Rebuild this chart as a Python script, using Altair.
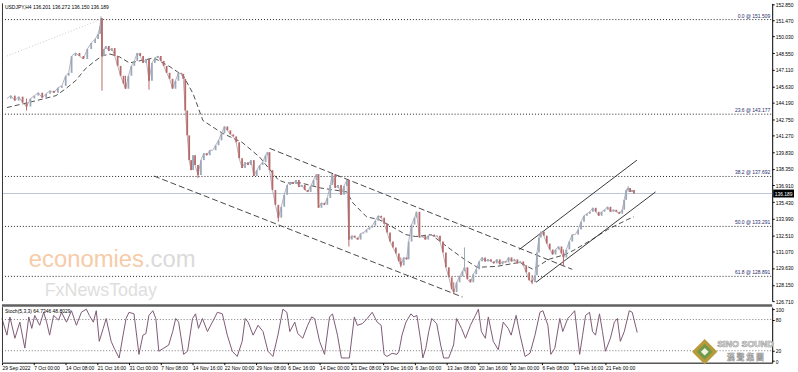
import altair as alt
import pandas as pd

FONT = "Liberation Sans"
W = 776
PH = 300
SH = 56
UP = "#9aa9ba"
DOWN = "#b86a6a"

# ---------------- price data (bar index, close) ----------------
bar_x = [0, 4, 8, 12, 16, 20, 24, 28, 32, 36,
         40, 44, 48, 52, 56, 60, 63, 66, 70, 74,
         78, 82, 86, 90, 93, 95, 96, 97, 99, 101,
         104, 107, 110, 113, 116, 119, 121, 124, 127, 130,
         133, 136, 139, 142, 145, 148, 151, 154, 157, 160,
         163, 166, 169, 172, 175, 178, 180, 182, 184, 186,
         188, 190, 192, 195, 198, 201, 204, 207, 210, 213,
         216, 219, 222, 225, 228, 231, 234, 237, 240, 243,
         246, 249, 252, 255, 258, 261, 264, 266, 268, 271,
         274, 277, 280, 283, 286, 289, 292, 295, 298, 301,
         304, 307, 310, 313, 316, 318, 321, 324, 327, 330,
         332, 335, 338, 341, 344, 347, 349, 352, 355, 358,
         361, 364, 367, 370, 373, 376, 379, 382, 385, 388,
         391, 394, 397, 400, 402, 405, 408, 410, 413, 416,
         418, 421, 424, 427, 430, 433, 436, 439, 442, 445,
         448, 451, 454, 456, 459, 462, 465, 467, 470, 473,
         476, 479, 482, 485, 488, 491, 494, 497, 500, 503,
         506, 509, 512, 515, 518, 521, 524, 527, 530, 533,
         536, 539, 541, 543, 545, 548, 551, 554, 557, 560,
         563, 566, 568, 571, 574, 577, 580, 583, 586, 589,
         592, 595, 598, 601, 604, 607, 610, 613, 616, 619,
         622, 625, 628, 630, 632, 634, 636, 638, 640]
close = [144.55, 144.81, 144.37, 144.72, 144.19, 143.85, 144.55, 144.81, 145.07, 144.63,
         144.98, 145.24, 145.07, 145.50, 145.68, 146.56, 146.82, 148.30, 148.57, 148.30,
         148.04, 148.91, 149.44, 149.79, 150.23, 150.93, 151.62, 148.30, 148.91, 149.18,
         148.74, 149.00, 148.30, 147.43, 146.56, 145.86, 145.42, 146.56, 147.43, 147.87,
         148.57, 148.30, 147.69, 148.04, 146.12, 147.69, 148.13, 148.30, 147.87, 147.43,
         146.82, 146.29, 145.42, 146.12, 146.82, 146.73, 146.29, 143.50, 141.31, 139.13,
         138.25, 139.56, 138.69, 137.81, 139.13, 139.74, 139.56, 140.00, 140.00, 140.44,
         140.87, 141.49, 142.10, 141.75, 141.40, 141.22, 140.70, 139.30, 138.43, 138.95,
         138.69, 139.13, 137.73, 138.25, 138.69, 138.95, 139.56, 139.83, 138.25, 136.50,
         135.19, 134.06, 135.02, 136.07, 136.94, 137.20, 137.03, 137.38, 136.77, 136.94,
         136.50, 136.33, 136.85, 137.38, 137.90, 134.93, 135.37, 135.19, 135.80, 136.94,
         137.90, 136.68, 136.94, 136.07, 136.85, 137.38, 132.13, 132.48, 132.31, 132.13,
         132.66, 132.75, 133.01, 133.18, 133.36, 133.80, 134.23, 134.06, 133.53, 132.75,
         131.96, 131.44, 130.91, 130.21, 129.86, 130.56, 130.39, 131.96, 133.45, 134.06,
         134.58, 132.31, 132.48, 132.13, 132.48, 132.57, 132.40, 132.48, 131.96, 130.99,
         129.69, 128.81, 127.76, 127.50, 128.37, 128.90, 129.34, 129.69, 128.64, 128.37,
         129.08, 129.51, 130.21, 130.56, 130.21, 130.39, 130.21, 130.04, 130.39, 129.95,
         130.21, 130.12, 130.56, 130.21, 130.39, 130.04, 130.21, 129.86, 129.25, 128.55,
         128.37, 128.99, 130.99, 132.31, 132.83, 132.48, 131.78, 131.26, 130.82, 131.26,
         131.52, 130.91, 130.56, 131.26, 131.96, 132.57, 132.57, 133.01, 133.71, 134.23,
         134.41, 134.58, 134.93, 134.58, 134.23, 134.58, 134.76, 135.02, 134.58, 134.76,
         134.58, 134.41, 134.76, 135.63, 136.50, 136.68, 136.33, 136.50, 136.19]
assert len(bar_x) == len(close)

# long wicks that stand out
wick_x = [20, 96, 97, 121, 145, 195, 277, 349, 402, 456, 467, 536, 568, 634]
wick_low = [143.50, 150.93, 145.24, 145.42, 145.33, 137.55, 133.71, 131.52, 129.69, 127.33, 129.69, 128.20, 129.77, 136.33]
wick_high = [144.55, 151.80, 151.62, 146.56, 148.04, 138.69, 135.02, 137.38, 130.56, 128.37, 131.44, 128.99, 131.26, 136.85]
wick_dir = ["down", "up", "down", "down", "down", "down", "down", "down", "down", "down", "up", "down", "down", "up"]

# moving average (dashed)
ma_x = [0, 30, 50, 60, 70, 80, 90, 97, 105, 115, 125, 135, 150, 165, 180, 190, 200, 220, 240, 258,
        277, 285, 300, 320, 347, 353, 367, 380, 393, 407, 417, 433, 453, 467, 480, 500, 523, 537, 553,
        570, 580, 597, 613, 633, 640]
ma_v = [143.76, 144.37, 144.81, 145.42, 146.12, 147.17, 147.87, 148.30, 148.48, 148.22, 147.69, 147.87,
        148.13, 147.43, 146.56, 144.98, 142.62, 141.49, 140.70, 139.39, 137.38, 137.12, 137.12, 136.68,
        136.33, 135.37, 134.14, 133.88, 133.27, 132.57, 132.40, 132.57, 131.26, 130.39, 129.69, 129.77,
        130.12, 129.51, 130.39, 130.82, 131.26, 132.13, 133.01, 133.88, 134.14]

# channels
desc_id = ["up", "up", "low", "low"]
desc_x = [268, 577, 150, 465]
desc_v = [140.17, 129.51, 137.73, 127.07]
asc_id = ["up", "up", "low", "low"]
asc_x = [523, 643, 540, 662]
asc_v = [131.26, 139.13, 128.37, 136.33]
fibbase_x = [0, 95]
fibbase_v = [148.30, 151.50]

# fibonacci levels
fib_level = [0.0, 23.6, 38.2, 50.0, 61.8]
fib_price = [151.509, 143.177, 137.692, 133.291, 128.891]

last_price = 136.189
header = "USDJPY,H4  136.201 136.272 136.150 136.189"

price_ticks = [152.850, 151.470, 150.030, 148.550, 147.110, 145.630, 144.190, 142.750, 141.270,
               139.830, 138.350, 136.910, 135.430, 133.990, 132.510, 131.070, 129.630, 128.150, 126.710]

# stochastic
stoch_x = [0, 5, 8, 13, 18, 23, 27, 30, 33, 38,
           42, 45, 48, 52, 57, 60, 65, 70, 75, 80,
           85, 88, 92, 95, 98, 102, 105, 110, 113, 118,
           122, 125, 128, 133, 138, 142, 145, 148, 152, 155,
           158, 163, 168, 172, 175, 178, 183, 187, 192, 195,
           198, 202, 207, 212, 217, 222, 227, 232, 237, 242,
           245, 248, 253, 258, 263, 268, 273, 278, 283, 287,
           290, 295, 298, 303, 308, 312, 315, 320, 325, 330,
           333, 338, 342, 347, 350, 355, 358, 363, 368, 373,
           378, 382, 385, 388, 393, 398, 400, 403, 407, 412,
           415, 418, 422, 424, 427, 430, 433, 438, 442, 445,
           450, 455, 458, 463, 467, 472, 477, 480, 483, 487,
           490, 495, 500, 505, 510, 513, 518, 522, 527, 532,
           537, 542, 545, 550, 553, 557, 562, 565, 570, 573,
           577, 582, 585, 588, 592, 595, 598, 602, 605, 608,
           613, 617, 620, 623, 627, 632, 635, 640]
stoch_v = [82, 50, 85, 44, 75, 25, 85, 63, 88, 69,
           94, 75, 50, 88, 79, 94, 75, 97, 69, 94,
           100, 88, 75, 97, 38, 63, 82, 38, 25, 6,
           50, 82, 94, 91, 13, 50, 53, 88, 97, 82,
           19, 25, 31, 57, 82, 75, 13, 19, 82, 91,
           63, 82, 57, 75, 94, 91, 50, 19, 9, 38,
           82, 75, 50, 69, 57, 19, 9, 50, 100, 94,
           57, 75, 53, 44, 69, 85, 82, 38, 13, 85,
           91, 50, 6, 6, 6, 85, 69, 72, 82, 94,
           75, 69, 13, 9, 15, 13, 19, 50, 75, 91,
           85, 88, 38, 6, 25, 57, 82, 72, 31, 6,
           6, 31, 82, 63, 44, 69, 88, 100, 57, 44,
           85, 38, 22, 75, 63, 50, 88, 50, 9, 15,
           50, 94, 97, 69, 13, 25, 82, 57, 82, 88,
           97, 13, 50, 88, 94, 57, 50, 91, 57, 19,
           44, 75, 82, 38, 57, 97, 94, 55]
assert len(stoch_x) == len(stoch_v)
stoch_levels = [80, 20]
stoch_ticks = [100, 80, 20, 0]
stoch_label = "Stoch(5,3,3) 64.7346 48.8029"

date_labels = ["29 Sep 2022", "7 Oct 00:00", "14 Oct 08:00", "21 Oct 16:00", "31 Oct 00:00",
               "7 Nov 08:00", "14 Nov 16:00", "22 Nov 00:00", "29 Nov 08:00", "6 Dec 16:00",
               "14 Dec 00:00", "21 Dec 08:00", "29 Dec 16:00", "6 Jan 00:00", "13 Jan 08:00",
               "20 Jan 16:00", "30 Jan 00:00", "6 Feb 08:00", "13 Feb 16:00", "21 Feb 00:00"]
date_pos = [32 * i for i in range(len(date_labels))]

# ---------------- frames ----------------
price_df = pd.DataFrame({"x": bar_x, "close": close})
price_df["open"] = [close[0]] + close[:-1]
price_df["dir"] = ["up" if c >= o else "down" for o, c in zip(price_df["open"], price_df["close"])]
wick_df = pd.DataFrame({"x": wick_x, "low": wick_low, "high": wick_high, "dir": wick_dir})
ma_df = pd.DataFrame({"x": ma_x, "v": ma_v})
desc_df = pd.DataFrame({"id": desc_id, "x": desc_x, "v": desc_v})
asc_df = pd.DataFrame({"id": asc_id, "x": asc_x, "v": asc_v})
fb_df = pd.DataFrame({"x": fibbase_x, "v": fibbase_v})
fib_df = pd.DataFrame({"price": fib_price,
                       "label": [f"{l:.1f} @ {p:.3f}" for l, p in zip(fib_level, fib_price)]})
last_df = pd.DataFrame({"price": [last_price], "label": [f"{last_price:.3f}"]})
one = pd.DataFrame({"t": [header]})
stoch_df = pd.DataFrame({"x": stoch_x, "v": stoch_v})
lvl_df = pd.DataFrame({"v": stoch_levels})

xs = alt.Scale(domain=[0, W], nice=False, zero=False)
ps = alt.Scale(domain=[126.71, 152.937], nice=False, zero=False)
ss = alt.Scale(domain=[-3, 104], nice=False, zero=False)
dir_color = alt.Color("dir:N", scale=alt.Scale(domain=["up", "down"], range=[UP, DOWN]), legend=None)

X = alt.X("x:Q", scale=xs, axis=None)
price_axis = alt.Axis(orient="right", values=price_ticks, format=".3f", title=None,
                      labelFontSize=5, labelFont=FONT, labelColor="#000", tickSize=2,
                      tickColor="#000", domainColor="#000", labelPadding=1, grid=False,
                      labelOverlap=False, labelBound=False)

close_line = alt.Chart(price_df).mark_line(color="#a89ca8", strokeWidth=0.8).encode(
    x=X, y=alt.Y("close:Q", scale=ps, axis=None))
candles = alt.Chart(price_df).mark_bar(width=1.8).encode(
    x=X, y=alt.Y("open:Q", scale=ps, axis=price_axis), y2="close:Q", color=dir_color)
wicks = alt.Chart(wick_df).mark_rule(strokeWidth=1).encode(
    x=X, y=alt.Y("low:Q", scale=ps, axis=None), y2="high:Q", color=dir_color)
fib_rules = alt.Chart(fib_df).mark_rule(strokeDash=[1, 2], color="#222", strokeWidth=1).encode(
    y=alt.Y("price:Q", scale=ps, axis=None), x=alt.value(0), x2=alt.value(W))
fib_text = alt.Chart(fib_df).mark_text(align="right", baseline="bottom", dy=-1, fontSize=5,
                                       font=FONT, color="#1f2a6b").encode(
    y=alt.Y("price:Q", scale=ps, axis=None), x=alt.value(W - 2), text="label:N")
fb_line = alt.Chart(fb_df).mark_line(strokeDash=[1, 2], color="#c8c8c8", strokeWidth=1).encode(
    x=X, y=alt.Y("v:Q", scale=ps, axis=None))
last_rule = alt.Chart(last_df).mark_rule(color="#b9c7d6", strokeWidth=1).encode(
    y=alt.Y("price:Q", scale=ps, axis=None), x=alt.value(0), x2=alt.value(W))
ma_line = alt.Chart(ma_df).mark_line(strokeDash=[5, 3], color="#222", strokeWidth=0.8).encode(
    x=X, y=alt.Y("v:Q", scale=ps, axis=None))
desc_lines = alt.Chart(desc_df).mark_line(strokeDash=[6, 3], color="#333", strokeWidth=0.9).encode(
    x=X, y=alt.Y("v:Q", scale=ps, axis=None), detail="id:N")
asc_lines = alt.Chart(asc_df).mark_line(color="#222", strokeWidth=0.9).encode(
    x=X, y=alt.Y("v:Q", scale=ps, axis=None), detail="id:N")
tag_box = alt.Chart(last_df).mark_rule(color="#000", strokeWidth=8, clip=False).encode(
    y=alt.Y("price:Q", scale=ps, axis=None), x=alt.value(W + 1), x2=alt.value(W + 22))
tag_text = alt.Chart(last_df).mark_text(color="#fff", fontSize=5, font=FONT, baseline="middle").encode(
    y=alt.Y("price:Q", scale=ps, axis=None), x=alt.value(W + 11.5), text="label:N")
head = alt.Chart(one).mark_text(align="left", baseline="middle", fontSize=5, font=FONT, color="#000").encode(
    x=alt.value(3), y=alt.value(4), text="t:N")
wm1 = alt.Chart(pd.DataFrame({"t": ["economies"]})).mark_text(
    align="left", baseline="alphabetic", fontSize=24, font=FONT, color="#f6cba8").encode(
    x=alt.value(27), y=alt.value(266), text="t:N")
wm2 = alt.Chart(pd.DataFrame({"t": [".com"]})).mark_text(
    align="left", baseline="alphabetic", fontSize=24, font=FONT, color="#dadada").encode(
    x=alt.value(143), y=alt.value(266), text="t:N")
wm3 = alt.Chart(pd.DataFrame({"t": ["FxNewsToday"]})).mark_text(
    align="left", baseline="alphabetic", fontSize=18, font=FONT, color="#dedede").encode(
    x=alt.value(43), y=alt.value(295), text="t:N")
left_border = alt.Chart(one).mark_rule(color="#333", strokeWidth=1).encode(
    x=alt.value(0.5), y=alt.value(0), y2=alt.value(PH))

price_chart = alt.layer(
    wm1, wm2, wm3, fb_line, fib_rules, last_rule, ma_line, desc_lines, asc_lines,
    close_line, wicks, candles, fib_text, tag_box, tag_text, head, left_border
).resolve_axis(y="independent").properties(width=W, height=PH)

# ---------------- stochastic panel ----------------
x_axis = alt.Axis(values=date_pos, labelExpr="%s[round(datum.value/32)]" % str(date_labels),
                  labelAlign="left", labelFontSize=5, labelFont=FONT, labelColor="#000",
                  tickSize=2, tickColor="#000", domainColor="#000", labelPadding=1, grid=False,
                  title=None, labelOverlap=False, labelBound=False, labelFlush=False)
stoch_axis = alt.Axis(orient="right", values=stoch_ticks, title=None, labelFontSize=5, labelFont=FONT,
                      labelColor="#000", tickSize=2, tickColor="#000", domainColor="#000",
                      labelPadding=1, grid=False, labelOverlap=False, labelBound=False)
s_line = alt.Chart(stoch_df).mark_line(color="#7e5a76", strokeWidth=1).encode(
    x=alt.X("x:Q", scale=xs, axis=x_axis), y=alt.Y("v:Q", scale=ss, axis=stoch_axis))
s_lvls = alt.Chart(lvl_df).mark_rule(strokeDash=[1, 2], color="#777", strokeWidth=1).encode(
    y=alt.Y("v:Q", scale=ss, axis=None), x=alt.value(0), x2=alt.value(W))
s_sep = alt.Chart(one).mark_rule(color="#606060", strokeWidth=2.5).encode(
    y=alt.value(-1.5), x=alt.value(0), x2=alt.value(W))
s_text = alt.Chart(pd.DataFrame({"t": [stoch_label]})).mark_text(
    align="left", baseline="middle", fontSize=5, font=FONT, color="#000").encode(
    x=alt.value(3), y=alt.value(4), text="t:N")
s_left = alt.Chart(one).mark_rule(color="#333", strokeWidth=1).encode(
    x=alt.value(0.5), y=alt.value(0), y2=alt.value(SH))
logo1 = alt.Chart(one).mark_point(shape="diamond", filled=True, size=650, color="#b99a3a", opacity=1).encode(
    x=alt.value(708), y=alt.value(45))
logo2 = alt.Chart(one).mark_point(shape="diamond", filled=True, size=260, color="#6f9a4a", opacity=1).encode(
    x=alt.value(708), y=alt.value(45))
logo3 = alt.Chart(one).mark_point(shape="diamond", filled=True, size=60, color="#f2f2e0", opacity=1).encode(
    x=alt.value(708), y=alt.value(45))
logo_t1 = alt.Chart(pd.DataFrame({"t": ["SINO SOUND"]})).mark_text(
    fontSize=9, font=FONT, fontWeight="bold", color="#f0f0f0", stroke="#9a9a9a", strokeWidth=0.6,
    baseline="middle").encode(x=alt.value(749), y=alt.value(37), text="t:N")
logo_t2 = alt.Chart(pd.DataFrame({"t": ["漢 聲 集 團"]})).mark_text(
    fontSize=8, font="Noto Sans CJK TC", fontWeight="bold", color="#f0f0f0", stroke="#9a9a9a",
    strokeWidth=0.5, baseline="middle").encode(x=alt.value(749), y=alt.value(51), text="t:N")

stoch_chart = alt.layer(
    s_lvls, s_line, s_sep, s_text, s_left, logo1, logo2, logo3, logo_t1, logo_t2
).resolve_axis(y="independent").properties(width=W, height=SH)

chart = alt.vconcat(price_chart, stoch_chart, spacing=0).resolve_scale(
    x="independent", y="independent", color="independent"
).properties(padding=0, background="#ffffff").configure_view(strokeWidth=0)

chart.save("out.html", embed_options={"renderer": "svg", "actions": False})
